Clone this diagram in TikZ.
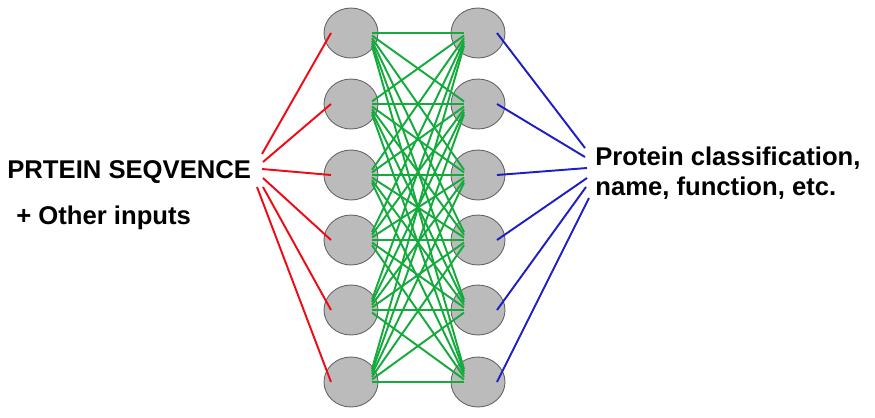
\documentclass[tikz,border=0pt]{standalone}
\usepackage{fontspec}
\setmainfont{Liberation Sans}
\usepackage{xcolor}
\usepackage{tikz}
\usetikzlibrary{calc, shapes.geometric}

\definecolor{cellgray}{RGB}{187,187,187}
\definecolor{cellrim}{RGB}{100,100,100}
\definecolor{inred}{RGB}{240,10,20}
\definecolor{midgreen}{RGB}{20,170,60}
\definecolor{outblue}{RGB}{30,30,195}

\begin{document}
\begin{tikzpicture}[x=0.02cm, y=-0.02cm,
    cell/.style={ellipse, draw=cellrim, fill=cellgray, line width=0.5pt,
        minimum width=1.08cm, minimum height=1.0cm, inner sep=0pt},
    label/.style={font=\fontsize{14.6}{17}\selectfont\bfseries, inner sep=0pt},
    wire/.style={line width=1.1pt}]
    \useasboundingbox (0,0) rectangle (875,417);

    % two layers of cells
    \foreach \i/\y in {1/33, 2/104, 3/175, 4/240, 5/310, 6/382} {
        \node[cell] (l\i) at (351,\y) {};
        \node[cell] (r\i) at (478,\y) {};
    }

    % texts
    \node[label, anchor=base west] (seq) at (7,178) {PRTEIN SEQVENCE};
    \node[label, anchor=base west] (other) at (16,224) {+ Other inputs};
    \node[label, anchor=base west, align=left] (out) at (595,195)
        {Protein classification,\\ name, function, etc.};

    % fan-in and fan-out points
    \foreach \i/\x/\y in {1/262/154, 2/263/162, 3/262/169, 4/263/178, 5/263/187, 6/257/187}
        \coordinate (s\i) at (\x,\y);
    \foreach \i/\x/\y in {1/585/148, 2/585/157, 3/587/168, 4/587/178, 5/586/187, 6/589/198}
        \coordinate (t\i) at (\x,\y);

    % connections
    \foreach \i in {1,...,6} {
        \foreach \j in {1,...,6} {
            \pgfmathsetmacro{\dy}{2.6*(\j-\i)}
            \draw[wire, midgreen] ($(l\i)+(21,\dy)$) -- ($(r\j)+(-14,-\dy)$);
        }
    }
    \foreach \i in {1,...,6} {
        \draw[wire, inred] (s\i) -- ($(l\i)+(-20,0)$);
        \draw[wire, outblue] ($(r\i)+(19,0)$) -- (t\i);
    }
\end{tikzpicture}
\end{document}
